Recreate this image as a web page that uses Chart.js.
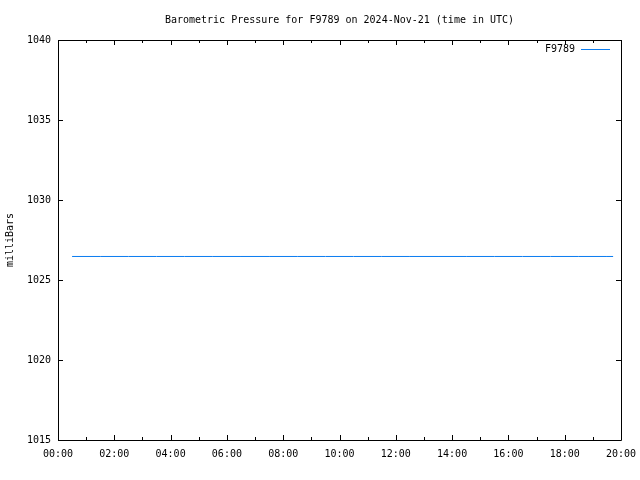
<!DOCTYPE html>
<html>
<head>
<meta charset="utf-8">
<script src="https://cdn.jsdelivr.net/npm/chart.js@4/dist/chart.umd.min.js"></script>
<style>
html,body{margin:0;padding:0;background:#fff;}
#wrap{width:640px;height:480px;position:relative;}
</style>
</head>
<body>
<div id="wrap"><canvas id="c" width="640" height="480"></canvas></div>
<script>
// Data (time in hours UTC, pressure in mbar)
const times = [0.5, 1.5, 2.5, 3.5, 4.5, 5.5, 6.5, 7.5, 8.5, 9.5, 10.5, 11.5, 12.5, 13.5, 14.5, 15.5, 16.5, 17.5, 18.5, 19.5, 19.72];
const pressure = [1026.47, 1026.47, 1026.47, 1026.47, 1026.47, 1026.47, 1026.47, 1026.47, 1026.47, 1026.47, 1026.47, 1026.47, 1026.47, 1026.47, 1026.47, 1026.47, 1026.47, 1026.47, 1026.47, 1026.47, 1026.47];
const seriesName = "F9789";
const titleText = "Barometric Pressure for F9789 on 2024-Nov-21 (time in UTC)";
const yTitle = "milliBars";
const xMin = 0, xMax = 20, xStep = 2;
const yMin = 1015, yMax = 1040, yStep = 5;

const FONT = "'DejaVu Sans Mono', 'Liberation Mono', monospace";
const lineColor = '#0a7cf0';

const points = times.map((t, i) => ({x: t, y: pressure[i]}));

function fmtHour(v) {
  const h = Math.floor(v);
  return (h < 10 ? '0' : '') + h + ':00';
}

const frame = {
  id: 'frame',
  afterDatasetsDraw(chart) {
    const ctx = chart.ctx;
    const a = chart.chartArea;
    const xs = chart.scales.x, ys = chart.scales.y;
    ctx.save();
    ctx.font = '10px ' + FONT;
    ctx.fillStyle = '#000';
    ctx.textAlign = 'center';
    ctx.textBaseline = 'middle';
    ctx.fillText(titleText, (a.left + a.right) / 2, 20);

    ctx.strokeStyle = '#000';
    ctx.lineWidth = 1;
    ctx.beginPath();
    ctx.rect(Math.round(a.left) + 0.5, Math.round(a.top) + 0.5, Math.round(a.right - a.left), Math.round(a.bottom - a.top));
    for (let v = xMin; v <= xMax; v += 1) {
      const px = Math.round(xs.getPixelForValue(v)) + 0.5;
      const len = (v % xStep === 0) ? 5 : 3;
      ctx.moveTo(px, a.bottom); ctx.lineTo(px, a.bottom - len);
      ctx.moveTo(px, a.top); ctx.lineTo(px, a.top + len);
    }
    for (let v = yMin; v <= yMax; v += yStep) {
      const py = Math.round(ys.getPixelForValue(v)) + 0.5;
      ctx.moveTo(a.left, py); ctx.lineTo(a.left + 5, py);
      ctx.moveTo(a.right, py); ctx.lineTo(a.right - 5, py);
    }
    ctx.stroke();

    const ds = chart.data.datasets[0];
    ctx.textAlign = 'right';
    ctx.fillText(ds.label, a.right - 46, a.top + 9);
    ctx.beginPath();
    ctx.strokeStyle = ds.borderColor;
    ctx.moveTo(a.right - 40, a.top + 9.5);
    ctx.lineTo(a.right - 11, a.top + 9.5);
    ctx.stroke();
    ctx.restore();
  }
};

new Chart(document.getElementById('c'), {
  type: 'line',
  data: {
    datasets: [{
      label: seriesName,
      data: points,
      borderColor: lineColor,
      backgroundColor: lineColor,
      borderWidth: 1,
      pointRadius: 0,
      tension: 0,
      fill: false
    }]
  },
  options: {
    responsive: false,
    animation: false,
    devicePixelRatio: 1,
    layout: {padding: {left: 0, right: 19, top: 40, bottom: 0}},
    plugins: {
      legend: {display: false},
      tooltip: {enabled: false},
      title: {display: false}
    },
    scales: {
      x: {
        type: 'linear',
        min: xMin, max: xMax,
        grid: {display: false, drawTicks: false},
        border: {display: false},
        afterFit(s) { s.height = 40; s.paddingLeft = 0; s.paddingRight = 0; },
        ticks: {
          stepSize: xStep,
          color: '#000',
          padding: 8,
          maxRotation: 0,
          autoSkip: false,
          font: {family: FONT, size: 10},
          callback: (v) => fmtHour(v)
        }
      },
      y: {
        type: 'linear',
        min: yMin, max: yMax,
        grid: {display: false, drawTicks: false},
        border: {display: false},
        afterFit(s) { s.width = 58; s.paddingTop = 0; s.paddingBottom = 0; },
        title: {
          display: true,
          text: yTitle,
          color: '#000',
          font: {family: FONT, size: 10},
          padding: {top: 4, bottom: 0}
        },
        ticks: {
          stepSize: yStep,
          color: '#000',
          padding: 7,
          font: {family: FONT, size: 10},
          callback: (v) => String(v)
        }
      }
    }
  },
  plugins: [frame]
});
</script>
</body>
</html>
